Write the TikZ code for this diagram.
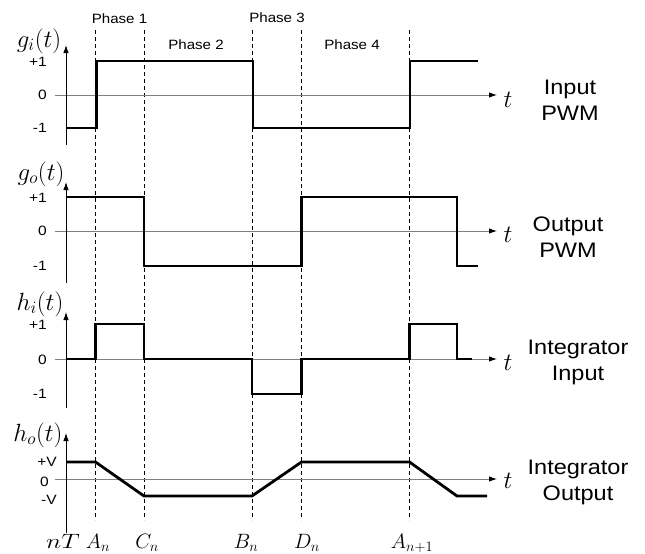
\documentclass[tikz,border=0pt]{standalone}
\usepackage{fontspec}
\setmainfont{Liberation Sans}
\usetikzlibrary{arrows.meta}
\begin{document}
\begin{tikzpicture}[x=1pt,y=-1pt,
  sig/.style={line width=2.8pt,line join=miter,black},
  zax/.style={line width=0.9pt,gray,-{Latex[length=8pt,width=5.5pt,color=black]}},
  vax/.style={line width=0.9pt,black,-{Latex[length=8pt,width=5.5pt]}},
  phaseline/.style={line width=0.8pt,black,dash pattern=on 4pt off 3pt},
  ticklbl/.style={font=\fontsize{13.5}{13.5}\selectfont,anchor=east,inner sep=0pt,xscale=1.15},
  phaselbl/.style={font=\fontsize{13.5}{13.5}\selectfont,inner sep=0pt},
  sidelbl/.style={font=\fontsize{21}{26}\selectfont,align=center,inner sep=0pt},
  fnlbl/.style={font=\fontsize{25}{25}\selectfont,inner sep=0pt},
  tlbl/.style={font=\fontsize{23}{23}\selectfont,inner sep=0pt,anchor=base},
  timelbl/.style={font=\fontsize{21}{21}\selectfont,inner sep=0pt,anchor=base}
]
\useasboundingbox (0,0) rectangle (645,554);
\fill[white] (0,0) rectangle (645,554);

% phase boundaries
\foreach \xx in {95.5,144,252,301.5,409.5}
  \draw[phaseline] (\xx,30) -- (\xx,520);

% phase labels
\node[phaselbl] (ph1) at (119.5,19) {\scalebox{1.12}[1]{Phase 1}};
\node[phaselbl] (ph2) at (196,45) {\scalebox{1.12}[1]{Phase 2}};
\node[phaselbl] (ph3) at (277,18) {\scalebox{1.12}[1]{Phase 3}};
\node[phaselbl] (ph4) at (352,45) {\scalebox{1.12}[1]{Phase 4}};

% ---------- panel 1: input PWM ----------
\draw[zax] (55,95) -- (497,95);
\draw[vax] (66,145) -- (66,45);
\node[ticklbl] (p1a) at (47,62) {+1};
\node[ticklbl] (p1b) at (47,95) {0};
\node[ticklbl] (p1c) at (47,128) {-1};
\node[fnlbl] (gi) at (39,41) {$g_i(t)$};
\node[tlbl] (t1) at (508,107) {$t$};
\node[sidelbl] (in1) at (570,100) {\scalebox{1.12}[1]{Input}\\\scalebox{1.12}[1]{PWM}};
\draw[sig] (66,128) -- (96.5,128) -- (96.5,61) -- (253,61) -- (253,128) -- (410,128) -- (410,61) -- (478,61);

% ---------- panel 2: output PWM ----------
\draw[zax] (55,231) -- (497,231);
\draw[vax] (66,283) -- (66,182);
\node[ticklbl] (p2a) at (47,198) {+1};
\node[ticklbl] (p2b) at (47,231) {0};
\node[ticklbl] (p2c) at (47,266) {-1};
\node[fnlbl] (go) at (41,174) {$g_o(t)$};
\node[tlbl] (t2) at (508,242) {$t$};
\node[sidelbl] (out1) at (568,237) {\scalebox{1.12}[1]{Output}\\\scalebox{1.12}[1]{PWM}};
\draw[sig] (66,197) -- (144,197) -- (144,266) -- (301.5,266) -- (301.5,197) -- (457,197) -- (457,266) -- (478,266);

% ---------- panel 3: integrator input ----------
\draw[zax] (55,359) -- (497,359);
\draw[vax] (66,408) -- (66,312);
\node[ticklbl] (p3a) at (47,325) {+1};
\node[ticklbl] (p3b) at (47,360) {0};
\node[ticklbl] (p3c) at (47,394) {-1};
\node[fnlbl] (hi) at (40,304) {$h_i(t)$};
\node[tlbl] (t3) at (508,370) {$t$};
\node[sidelbl] (ii1) at (578,362) {\scalebox{1.12}[1]{Integrator}\\\scalebox{1.12}[1]{Input}};
\draw[sig] (67,359) -- (95.5,359) -- (95.5,324) -- (144,324) -- (144,359) -- (252,359) -- (252,394) -- (301.5,394) -- (301.5,359) -- (409.5,359) -- (409.5,324) -- (457,324) -- (457,359) -- (472,359);

% ---------- panel 4: integrator output ----------
\draw[zax] (55,479) -- (497,479);
\draw[vax] (66,533) -- (66,433);
\node[ticklbl] (p4a) at (57,462) {+V};
\node[ticklbl] (p4b) at (49,482) {0};
\node[ticklbl] (p4c) at (57,500) {-V};
\node[fnlbl] (ho) at (38,435) {$h_o(t)$};
\node[tlbl] (t4) at (508,488) {$t$};
\node[sidelbl] (io1) at (578,482) {\scalebox{1.12}[1]{Integrator}\\\scalebox{1.12}[1]{Output}};
\draw[sig] (66,462) -- (95.5,462) -- (144,496) -- (252,496) -- (301.5,462) -- (409.5,462) -- (457,496) -- (487,496);

% ---------- time instants ----------
\node[timelbl] (nT) at (63,548) {\scalebox{1.25}[1]{$nT$}};
\node[timelbl] (An) at (98,548) {$A_n$};
\node[timelbl] (Cn) at (147,548) {$C_n$};
\node[timelbl] (Bn) at (246,548) {$B_n$};
\node[timelbl] (Dn) at (307,548) {$D_n$};
\node[timelbl] (An1) at (412,548) {$A_{n+1}$};
\end{tikzpicture}
\end{document}
